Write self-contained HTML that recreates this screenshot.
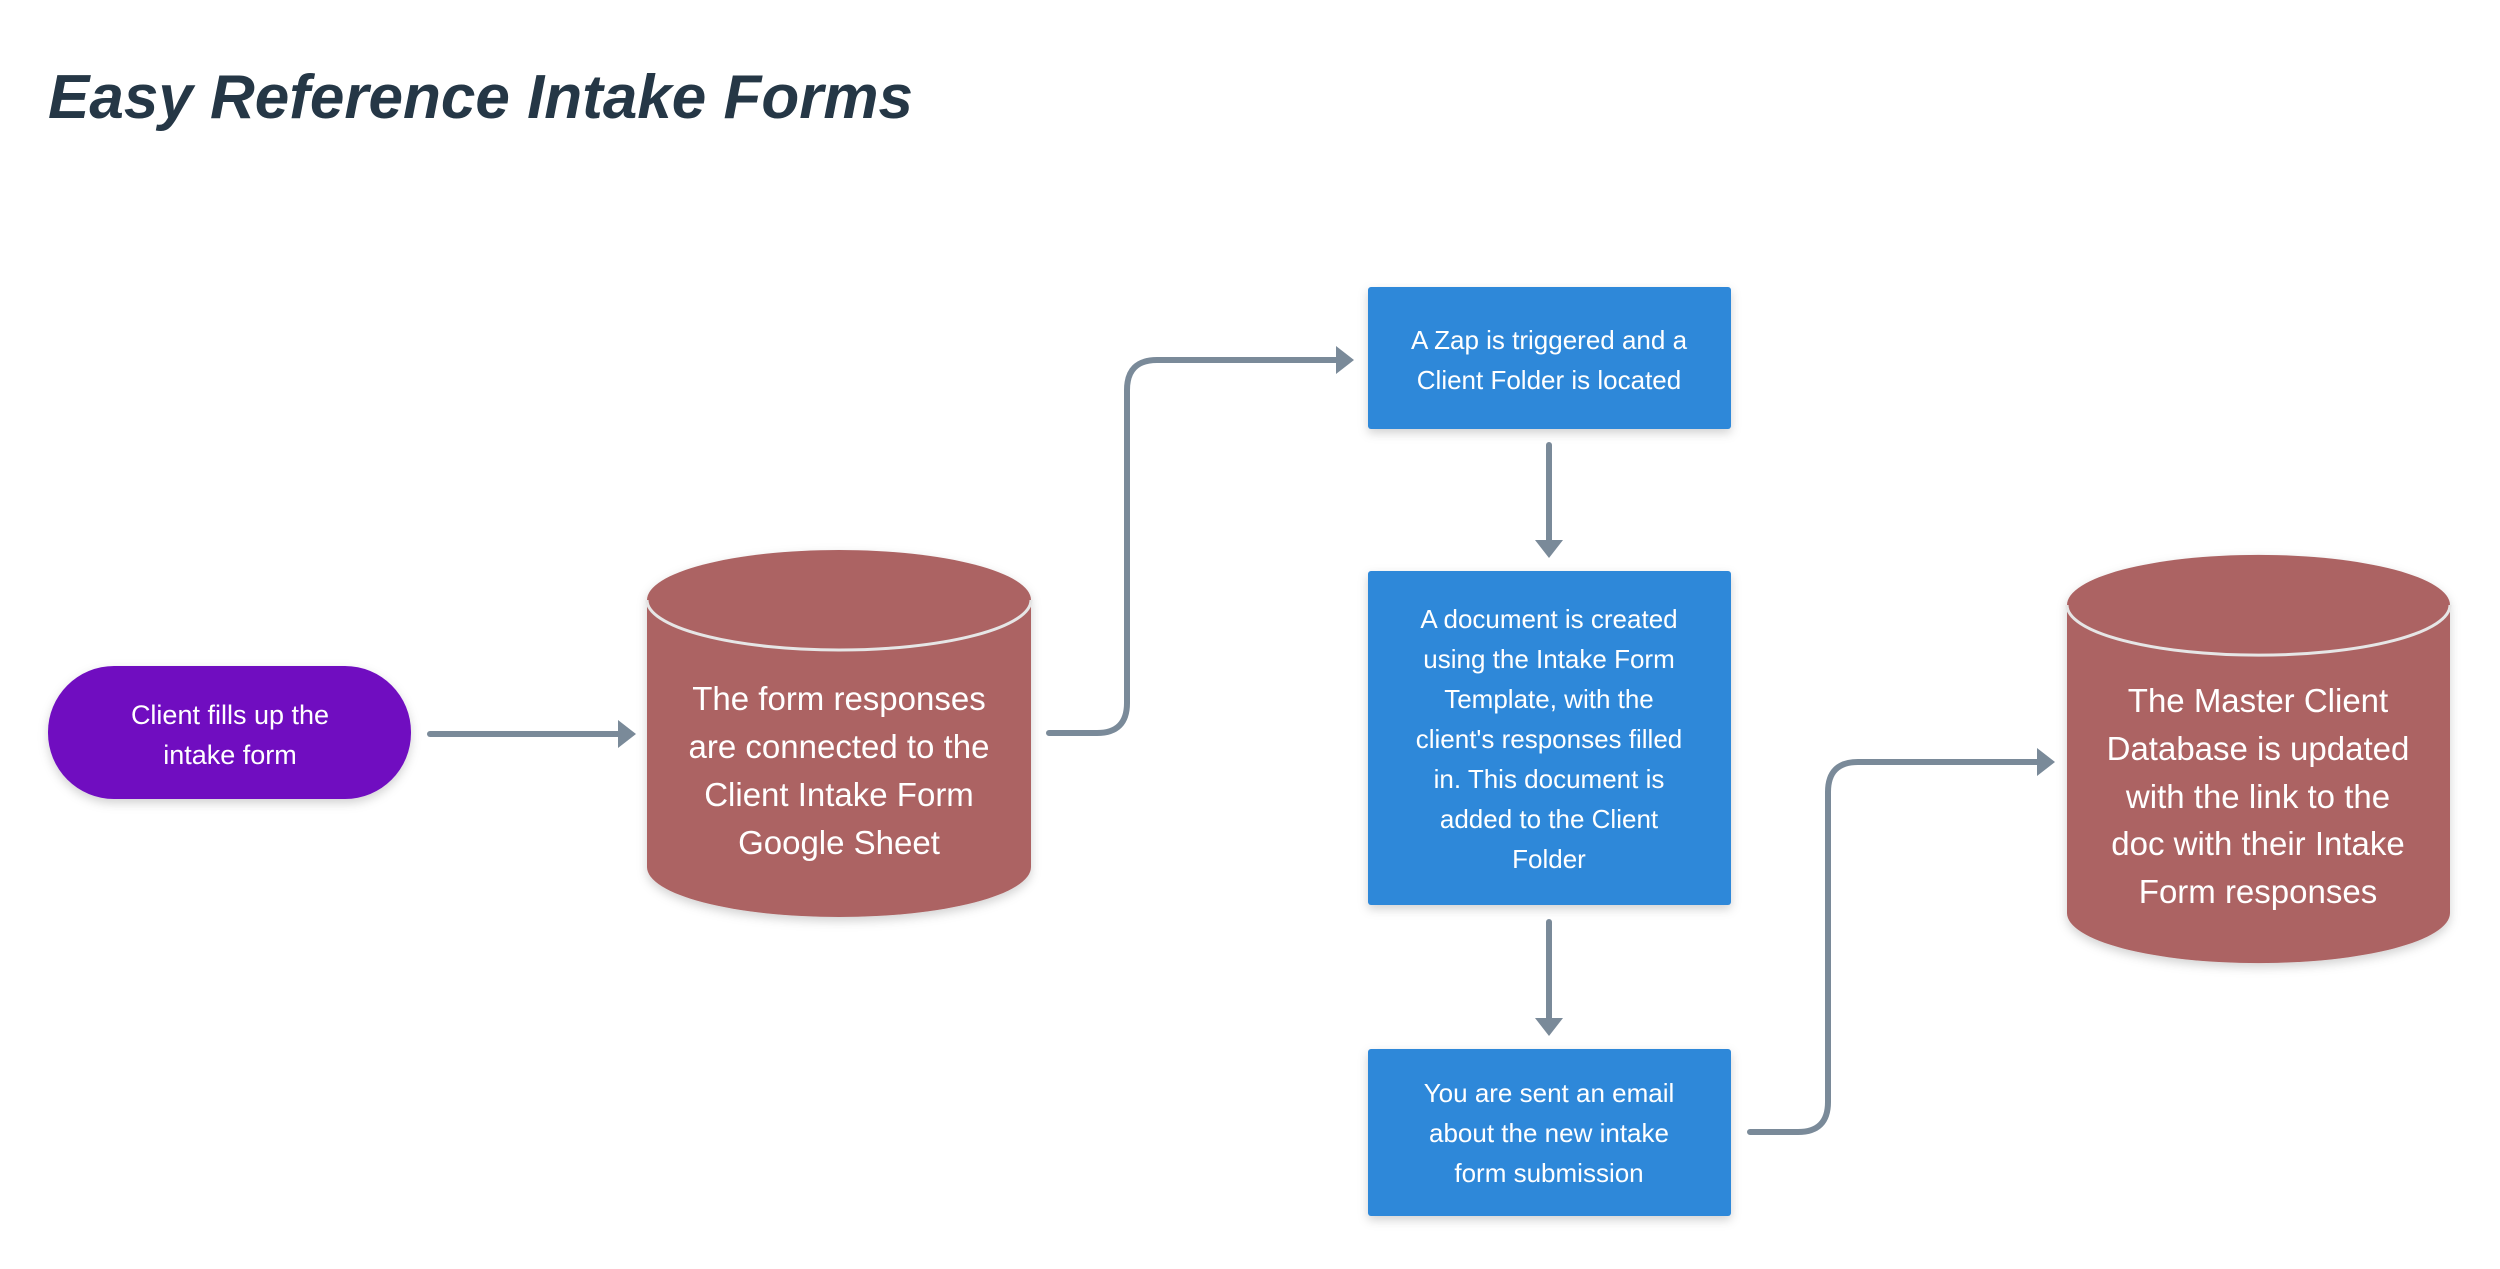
<!DOCTYPE html>
<html><head><meta charset="utf-8"><style>
html,body{margin:0;padding:0;background:#fff;}
body{width:2500px;height:1264px;overflow:hidden;}
svg text{font-family:"Liberation Sans",sans-serif;fill:#fff;text-anchor:middle;}
</style></head><body>
<svg width="2500" height="1264" xmlns="http://www.w3.org/2000/svg">
<defs>
<filter id="sh" x="-10%" y="-10%" width="120%" height="130%"><feDropShadow dx="0" dy="4" stdDeviation="5" flood-color="#000" flood-opacity="0.18"/></filter>
</defs>
<text x="48" y="118" style="font-size:62px;font-weight:bold;font-style:italic;fill:#253746;text-anchor:start">Easy Reference Intake Forms</text>

<!-- pill -->
<rect x="48" y="666" width="363" height="133" rx="66" fill="#7011c0" filter="url(#sh)"/>
<text x="230" y="724" style="font-size:27px">Client fills up the</text>
<text x="230" y="764" style="font-size:27px">intake form</text>

<!-- cylinder 1 -->
<g filter="url(#sh)">
<path d="M647,600 A192,50 0 0 1 1031,600 L1031,867 A192,50 0 0 1 647,867 Z" fill="#ac6464"/>
</g>
<path d="M647,600 A192,50 0 0 0 1031,600" fill="none" stroke="#e6e6e6" stroke-width="3"/>
<text x="839" y="710" style="font-size:33px">The form responses</text>
<text x="839" y="758" style="font-size:33px">are connected to the</text>
<text x="839" y="806" style="font-size:33px">Client Intake Form</text>
<text x="839" y="854" style="font-size:33px">Google Sheet</text>

<!-- cylinder 2 -->
<g filter="url(#sh)">
<path d="M2067,605 A191,50 0 0 1 2450,605 L2450,913 A191,50 0 0 1 2067,913 Z" fill="#ac6464"/>
</g>
<path d="M2067,605 A191,50 0 0 0 2450,605" fill="none" stroke="#e6e6e6" stroke-width="3"/>
<text x="2258" y="712" style="font-size:33px">The Master Client</text>
<text x="2258" y="760" style="font-size:33px">Database is updated</text>
<text x="2258" y="808" style="font-size:33px">with the link to the</text>
<text x="2258" y="855" style="font-size:33px">doc with their Intake</text>
<text x="2258" y="903" style="font-size:33px">Form responses</text>

<!-- boxes -->
<rect x="1368" y="287" width="363" height="142" rx="3" fill="#2d88d9" filter="url(#sh)"/>
<text x="1549" y="349" style="font-size:26px">A Zap is triggered and a</text>
<text x="1549" y="389" style="font-size:26px">Client Folder is located</text>

<rect x="1368" y="571" width="363" height="334" rx="3" fill="#2d88d9" filter="url(#sh)"/>
<text x="1549" y="628" style="font-size:26px">A document is created</text>
<text x="1549" y="668" style="font-size:26px">using the Intake Form</text>
<text x="1549" y="708" style="font-size:26px">Template, with the</text>
<text x="1549" y="748" style="font-size:26px">client's responses filled</text>
<text x="1549" y="788" style="font-size:26px">in. This document is</text>
<text x="1549" y="828" style="font-size:26px">added to the Client</text>
<text x="1549" y="868" style="font-size:26px">Folder</text>

<rect x="1368" y="1049" width="363" height="167" rx="3" fill="#2d88d9" filter="url(#sh)"/>
<text x="1549" y="1102" style="font-size:26px">You are sent an email</text>
<text x="1549" y="1142" style="font-size:26px">about the new intake</text>
<text x="1549" y="1182" style="font-size:26px">form submission</text>

<!-- connectors -->
<g fill="none" stroke="#7a8a99" stroke-width="6" stroke-linecap="round">
<path d="M430,734 L624,734"/>
<path d="M1049,733 L1097,733 Q1127,733 1127,703 L1127,390 Q1127,360 1157,360 L1342,360"/>
<path d="M1549,445 L1549,545"/>
<path d="M1549,922 L1549,1023"/>
<path d="M1750,1132 L1798,1132 Q1828,1132 1828,1102 L1828,792 Q1828,762 1858,762 L2043,762"/>
</g>
<g fill="#7a8a99">
<path d="M618,720 L636,734 L618,748 Z"/>
<path d="M1336,346 L1354,360 L1336,374 Z"/>
<path d="M1535,540 L1549,558 L1563,540 Z"/>
<path d="M1535,1018 L1549,1036 L1563,1018 Z"/>
<path d="M2037,748 L2055,762 L2037,776 Z"/>
</g>
</svg>
</body></html>
